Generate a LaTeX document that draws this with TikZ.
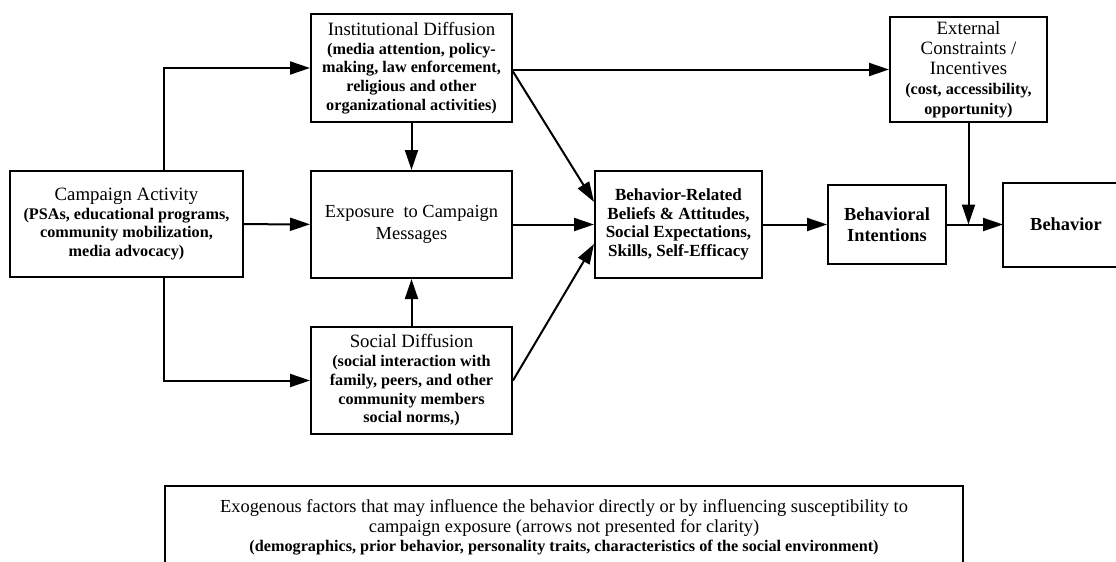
\documentclass[tikz,border=0pt]{standalone}
\usepackage{fontspec}
\setmainfont{Liberation Serif}
\usetikzlibrary{arrows.meta,positioning}
\tikzset{->, % every connector gets a head
>={Triangle[length=10pt,width=6.5pt]}, % solid heads like the printed figure
box/.style={draw, align=center, inner sep=2pt, font=\fontsize{9.4}{9.35}\selectfont}, % plain boxes
bigbox/.style={box, font=\fontsize{9.2}{11}\selectfont}, % boxes with larger text
boldbox/.style={box, font=\fontsize{9.2}{10.5}\selectfont\bfseries}, % intentions and behavior
}
\newcommand{\smallbold}{\fontsize{8.1}{9.35}\selectfont\bfseries}

\begin{document}
\begin{tikzpicture}[x=0.5pt, y=-0.5pt, line width=1pt]
\useasboundingbox (0,0) rectangle (1116,562);

\node[box, minimum width=116.5pt, minimum height=53pt] (camp) at (126.5,224) {Campaign Activity\\ \smallbold (PSAs, educational programs,\\ \smallbold community mobilization,\\ \smallbold media advocacy)};
\node[bigbox, minimum width=100.5pt, minimum height=53.5pt] (expo) at (411.5,224.5) {Exposure\ \ to Campaign\\ Messages};
\node[box, minimum width=100.5pt, minimum height=54pt, above=23.5pt of expo] (inst) {Institutional Diffusion\\ \smallbold (media attention, policy-\\ \smallbold making, law enforcement,\\ \smallbold religious and other\\ \smallbold organizational activities)};
\node[box, minimum width=100.5pt, minimum height=53.5pt, below=23.5pt of expo] (soc) {Social Diffusion\\ \smallbold (social interaction with\\ \smallbold family, peers, and other\\ \smallbold community members\\ \smallbold social norms,)};
\node[box, minimum width=83.5pt, minimum height=53.5pt, right=40.5pt of expo, font=\fontsize{8.5}{9.2}\selectfont\bfseries] (belief) {Behavior-Related\\ Beliefs \& Attitudes,\\ Social Expectations,\\ Skills, Self-Efficacy};
\node[boldbox, minimum width=59pt, minimum height=39.5pt, right=32pt of belief] (intent) {Behavioral\\ Intentions};
\node[boldbox, draw=none, minimum width=62pt, minimum height=41pt, right=28pt of intent] (behav) {Behavior};
\node[box, minimum width=78.5pt, minimum height=52.5pt, font=\fontsize{9.4}{10}\selectfont] (ext) at (968.5,69.5) {External\\ Constraints /\\ Incentives\\ \smallbold (cost, accessibility,\\ \smallbold opportunity)};
\node[box, draw=none, minimum width=398pt, minimum height=40.5pt, font=\fontsize{9.2}{9.8}\selectfont] (exo) at (564,527.5) {Exogenous factors that may influence the behavior directly or by influencing susceptibility to\\ campaign exposure (arrows not presented for clarity)\\ \smallbold (demographics, prior behavior, personality traits, characteristics of the social environment)};

\coordinate (tap) at (164,224);
\coordinate (rim) at (1116,562);

% boxes cut by the page edge
\draw[-] (behav.north west -| rim) -- (behav.north west) -- (behav.south west) -- (behav.south west -| rim);
\draw[-] (exo.north west |- rim) -- (exo.north west) -- (exo.north east) -- (exo.north east |- rim);

\draw (camp.north -| tap) |- (inst);
\draw (camp.south -| tap) |- (soc);
\draw (camp) -- (expo);
\draw (inst) -- (expo);
\draw (soc) -- (expo);
\draw (inst.east |- ext) -- (ext);
\draw (inst.-2) -- (belief.165);
\draw (expo) -- (belief);
\draw (soc.east) -- (belief.193);
\draw (belief) -- (intent);
\draw (intent) -- (behav.west);
\draw (ext) -- (ext |- behav.west);

\end{tikzpicture}
\end{document}
